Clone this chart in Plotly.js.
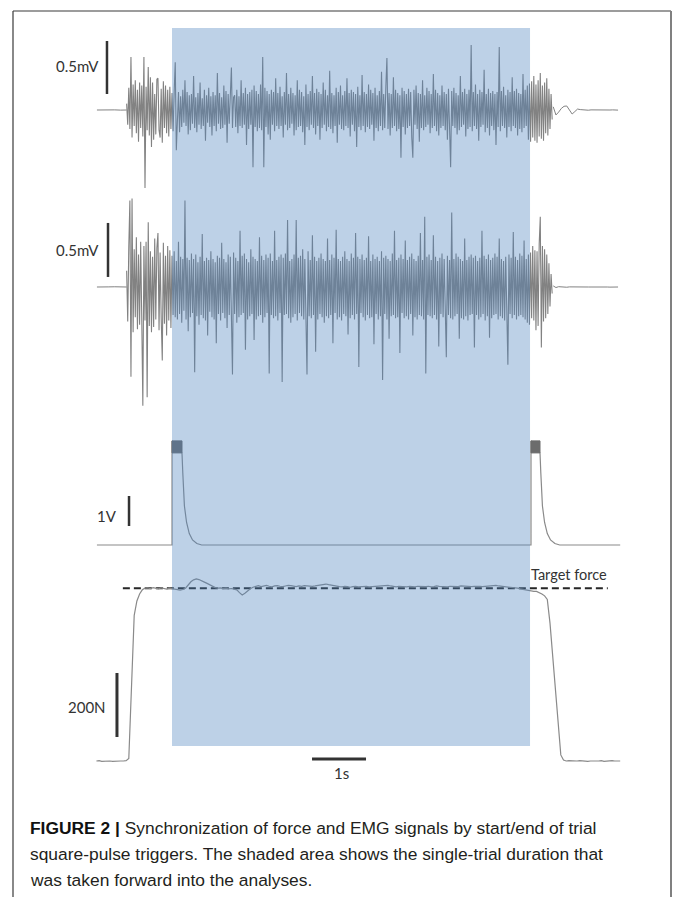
<!DOCTYPE html>
<html><head><meta charset="utf-8">
<script src="https://cdn.plot.ly/plotly-3.0.1.min.js"></script>
<style>html,body{margin:0;padding:0;background:#fff}#chart{width:673px;height:897px}</style>
</head><body><div id="chart"></div>
<script>
// ---------------- DATA ----------------
// EMG bursts (µV), sampled every emgDt seconds from emgStart (t = 0 at first trigger)
const emgStart = -0.84, emgDt = 0.02;
const emg1 = [
60,-140,210,-180,500,-260,240,-150,280,-220,190,-300,260,-170,230,-250,500,-735,220,-190,
405,-240,310,-350,260,-280,150,-230,290,300,-190,-260,200,-310,270,-170,230,-220,190,-250,
220,-180,160,-200,170,450,-380,-140,170,-210,130,-160,190,-120,280,-150,170,-230,140,-190,
150,-130,320,-170,120,-210,160,-140,260,-180,110,-150,190,-290,140,-120,210,-160,130,-240,
170,-150,140,-200,350,-130,160,-180,120,-170,230,-140,180,-310,150,-130,200,400,-170,120,
140,-160,190,-220,130,-150,280,-170,160,-140,210,-330,150,-180,170,-140,190,-540,230,-160,
180,-200,150,-170,240,-190,500,-540,210,-160,180,-230,150,-280,190,-140,170,-200,300,-150,
160,-180,220,-150,130,-260,170,-140,350,-190,150,-170,210,-130,160,-240,140,-190,280,-160,
190,-150,170,-210,130,-330,240,-160,150,-190,180,-140,320,-170,160,-230,200,-150,170,-280,
150,-170,260,-140,190,-200,140,-160,370,-180,160,-220,140,-150,210,-310,170,-140,230,-180,
140,-190,180,-150,300,-170,160,-250,190,-140,170,-200,150,-350,220,-160,140,-190,330,-150,
170,-210,150,-160,240,-180,190,-140,160,-290,210,-170,140,-200,180,-150,360,-190,150,-170,
220,490,-180,160,-240,150,-170,310,-150,190,-200,160,-180,140,-450,210,-160,180,-230,150,
-170,200,-150,170,-260,-450,190,-140,230,-180,160,-300,150,-170,280,-190,140,-160,210,-140,
180,-220,150,-170,340,-150,190,-200,160,-240,140,-170,230,-150,170,-190,150,-280,200,-160,
-540,180,-150,210,-170,160,-230,140,-190,320,-160,170,-140,200,-250,150,-180,190,-160,613,
-200,170,-150,240,-180,150,-290,190,-160,170,-140,380,-210,150,-170,200,-240,160,-150,180,
-190,150,-330,170,-160,595,-200,180,-150,220,-170,140,-260,190,-160,170,-200,310,-150,180,
-170,200,-240,160,-180,150,-210,340,-170,190,-150,230,-280,250,-300,270,-260,320,-290,240,
-310,280,-250,350,-270,230,-290,260,-220,300,-240,200,-180,150,-90
];
const emg2 = [
150,-320,380,800,-830,820,-420,350,-280,460,-390,300,-350,420,-300,-1100,380,-310,420,-1020,
600,-360,330,-420,280,-370,450,-300,360,500,-400,320,-290,-680,410,-340,290,-450,380,-310,
340,-380,290,-260,330,-280,240,-300,420,-250,280,-330,260,-220,800,-300,270,-410,250,-280,
310,-240,260,-790,300,-270,230,-350,280,-260,490,-290,240,-310,270,-450,250,-230,330,-280,
260,-300,230,-520,290,-250,270,-310,410,-240,260,-290,230,-380,300,-260,280,-270,-810,320,
-250,270,-330,240,-280,520,-260,290,-240,310,-580,260,-300,230,-270,350,-250,280,-490,260,
-300,240,-270,460,-260,290,-330,250,-280,300,-240,270,-800,310,-260,240,-290,520,-270,250,
-310,280,-240,300,-880,270,-260,310,-250,620,-290,240,-330,260,-280,300,-250,620,-310,270,
-240,290,-270,350,-300,260,-250,-810,330,-270,250,-290,480,-260,280,-600,240,-300,270,-250,
310,-280,260,-330,240,-270,450,-290,250,-260,300,-520,270,-240,530,-300,260,-280,240,-310,
280,-250,330,-270,260,-440,240,-290,310,-260,270,-300,500,-250,280,-740,260,-240,300,-280,
250,-310,270,-260,470,-290,240,-280,300,-530,260,-250,280,-300,240,-270,330,-860,270,-250,
290,-300,260,-480,240,-270,310,-260,520,-290,250,-280,270,-610,300,-240,260,-290,430,-270,
250,-300,280,-250,310,-450,260,-280,240,-300,290,-260,500,-270,250,-300,650,-800,280,-260,
300,-270,250,-290,480,-260,280,-300,240,-550,270,-250,310,-280,260,-300,-650,290,-260,250,
-290,690,-300,260,-270,310,-250,280,-480,260,-290,240,-300,450,-270,250,-310,280,-260,300,
-250,270,-560,290,-260,240,-300,270,-280,520,-250,290,-310,260,-270,300,-470,250,-290,270,
-260,310,-250,280,-300,450,-270,260,-290,240,-310,280,-260,-720,300,-250,270,-290,510,-260,
280,-300,250,-270,310,-260,290,-280,430,-300,260,-330,300,-350,320,-290,380,-310,340,-400,
330,-360,400,650,-560,380,-320,350,-290,300,-250,220,-180,120,-60
];
// quiet baseline before the bursts (µV)
const quietStart = -1.39, quietDt = 0.11;
const emg1Pre = [0, 2, -2, 1, -1, 0];
const emg2Pre = [0, -2, 1, 2, -1, 0];
// after the bursts (µV)
const tailStart = 7.06, tailDt = 0.05;
const emg1Tail = [30,-47,-20,15,35,38,0,-38,-15,9,4,0,3,-2,1,0,2,-1,0,1,-2,0,1,0,-1];
const emg2Tail = [10,-5,3,0,2,-2,1,0,-1,2,0,-1,1,0,0,1,-1,0,0,1,0,-1,0,0,0];

// trigger channel (s, V)
const trigT = [-1.39, 0, 0, 0.185, 0.2, 0.23, 0.27, 0.32, 0.38, 0.46, 0.55,
               6.648, 6.648, 6.815, 6.83, 6.86, 6.90, 6.95, 7.01, 7.09, 7.18, 8.30];
const trigV = [0, 0, 3.47, 3.07, 2.4, 1.3, 0.75, 0.38, 0.17, 0.05, 0,
               0, 3.47, 3.07, 2.4, 1.3, 0.75, 0.38, 0.17, 0.05, 0, 0];
// ringing band on top of each pulse (s, V)
const ringStart = [0, 6.648], ringEnd = [0.185, 6.815];
const ringLo = 3.07, ringHi = 3.47;

// force (N), sampled every forceDt seconds from forceStart
const forceStart = -1.40, forceDt = 0.05;
const forceN = [
0,1,-1,0,1,0,-1,0,1,0,0,1,
8,265,455,500,522,535,540,
541,539,542,540,538,541,539,537,540,538,
536,535,534,536,540,
550,560,566,569,567,564,559,555,550,546,542,
540,541,539,540,538,539,537,535,
526,519,524,532,538,543,
546,548,545,547,549,546,544,547,548,546,545,547,549,548,546,545,547,546,548,547,545,546,
547,548,550,552,553,551,549,547,546,545,544,546,545,543,545,546,544,545,547,546,544,545,546,545,547,548,550,
549,547,545,544,546,545,543,544,546,545,544,546,545,544,
545,546,544,545,547,546,545,543,544,546,545,544,545,547,546,545,544,545,546,547,546,545,546,548,549,550,
549,547,546,545,544,545,543,542,540,538,536,534,533,
532,530,530,527,522,516,505,431,322,209,103,19,3,
0,1,0,-1,0,1,0,0,-1,0,1,0,0,1,-1,0,0,1,0,-1,0
];
const targetForceN = 540;
const targetT = [-0.91, 8.07];

// single-trial window (s)
const trialWindow = [0, 6.63];
// scale bars
const emgBar = 500, trigBar = 1, forceBar = 200, timeBar = 1;

// ---------------- LAYOUT HELPERS ----------------
const W = 673, H = 897;
const pxPerSec = 54, t0px = 172;
const px = x => x / W, py = y => 1 - y / H;
function yr(basePx, unitsPerPx) { return [-(H - basePx) * unitsPerPx, basePx * unitsPerPx]; }

const grey = '#828282';
const traces = [];
function addSeries(y, x0, dx, axis, color, width) {
  traces.push({type: 'scatter', mode: 'lines', y: y, x0: x0, dx: dx, yaxis: axis,
    line: {color: color, width: width}, hoverinfo: 'skip'});
}
addSeries(emg1Pre, quietStart, quietDt, 'y', grey, 1);
addSeries(emg1, emgStart, emgDt, 'y', grey, 1.1);
addSeries(emg1Tail, tailStart, tailDt, 'y', grey, 1);
addSeries(emg2Pre, quietStart, quietDt, 'y2', grey, 1);
addSeries(emg2, emgStart, emgDt, 'y2', grey, 1.1);
addSeries(emg2Tail, tailStart, tailDt, 'y2', grey, 1);
traces.push({type: 'scatter', mode: 'lines', x: trigT, y: trigV, yaxis: 'y3',
  line: {color: '#8a8a8a', width: 1.2}, hoverinfo: 'skip'});
ringStart.forEach((s, i) => {
  traces.push({type: 'scatter', mode: 'lines', x: [s, ringEnd[i], ringEnd[i], s, s],
    y: [ringLo, ringLo, ringHi, ringHi, ringLo], yaxis: 'y3', fill: 'toself',
    fillcolor: '#6c6c6c', line: {color: '#6c6c6c', width: 1}, hoverinfo: 'skip'});
});
traces.push({type: 'scatter', mode: 'lines', x: targetT, y: [targetForceN, targetForceN], yaxis: 'y4',
  line: {color: '#262626', width: 2, dash: '7px,4px'}, hoverinfo: 'skip'});
addSeries(forceN, forceStart, forceDt, 'y4', '#8a8a8a', 1.2);

const ax = {visible: false, showgrid: false, zeroline: false, fixedrange: true};
const layout = {
  width: W, height: H, margin: {l: 0, r: 0, t: 0, b: 0, pad: 0},
  paper_bgcolor: '#fff', plot_bgcolor: '#fff', showlegend: false, hovermode: false,
  xaxis: Object.assign({range: [-t0px / pxPerSec, (W - t0px) / pxPerSec]}, ax),
  yaxis: Object.assign({range: yr(110, 500 / 53)}, ax),
  yaxis2: Object.assign({range: yr(287, 500 / 54), overlaying: 'y'}, ax),
  yaxis3: Object.assign({range: yr(545, 1 / 30), overlaying: 'y'}, ax),
  yaxis4: Object.assign({range: yr(761, 200 / 64), overlaying: 'y'}, ax),
  shapes: [
    {type: 'rect', xref: 'x', yref: 'paper', x0: trialWindow[0], x1: trialWindow[1],
     y0: py(746), y1: py(28), fillcolor: 'rgb(77,131,190)', opacity: 0.37, line: {width: 0}, layer: 'above'},
    {type: 'line', xref: 'x', yref: 'y', x0: -1.204, x1: -1.204, y0: 151, y1: 151 + emgBar, line: {color: '#333', width: 2.5}},
    {type: 'line', xref: 'x', yref: 'y2', x0: -1.185, x1: -1.185, y0: 93, y1: 93 + emgBar, line: {color: '#333', width: 2.5}},
    {type: 'line', xref: 'x', yref: 'y3', x0: -0.796, x1: -0.796, y0: 0.633, y1: 0.633 + trigBar, line: {color: '#333', width: 2.5}},
    {type: 'line', xref: 'x', yref: 'y4', x0: -1.019, x1: -1.019, y0: 75, y1: 75 + forceBar, line: {color: '#333', width: 3}},
    {type: 'line', xref: 'x', yref: 'paper', x0: 2.593, x1: 2.593 + timeBar, y0: py(759), y1: py(759), line: {color: '#333', width: 3}},
    // frame
    {type: 'line', xref: 'paper', yref: 'paper', x0: px(13), x1: px(671), y0: py(11), y1: py(11), line: {color: '#3a3a3a', width: 1.2}},
    {type: 'line', xref: 'paper', yref: 'paper', x0: px(13), x1: px(13), y0: py(11), y1: 0, line: {color: '#3a3a3a', width: 1.2}},
    {type: 'line', xref: 'paper', yref: 'paper', x0: px(671), x1: px(671), y0: py(11), y1: 0, line: {color: '#808080', width: 2}}
  ],
  annotations: []
};
const lab = {family: 'Lato, "Open Sans", sans-serif', size: 15, color: '#333'};
const labT = {family: 'Lato, "Open Sans", sans-serif', size: 14.5, color: '#333'};
function ann(text, x, y, xanchor, font) {
  layout.annotations.push({text: text, xref: 'paper', yref: 'paper', x: px(x), y: py(y),
    xanchor: xanchor, yanchor: 'middle', showarrow: false, font: font, align: 'left'});
}
ann('0.5mV', 101, 66, 'right', lab);
ann('0.5mV', 101, 250, 'right', lab);
ann('1V', 119, 516, 'right', lab);
ann('Target force', 569, 574, 'center', labT);
ann('200N', 108, 707, 'right', lab);
ann('1s', 341, 773, 'center', lab);
const cap = {family: '"Liberation Sans", Arial, sans-serif', size: 17.4, color: '#231f20'};
ann('<b style="color:#111">FIGURE 2 |</b> Synchronization of force and EMG signals by start/end of trial', 28, 828, 'left', cap);
ann('square-pulse triggers. The shaded area shows the single-trial duration that', 28, 854, 'left', cap);
ann('was taken forward into the analyses.', 28, 880, 'left', cap);

Plotly.newPlot('chart', traces, layout, {staticPlot: true, displayModeBar: false});
</script></body></html>
